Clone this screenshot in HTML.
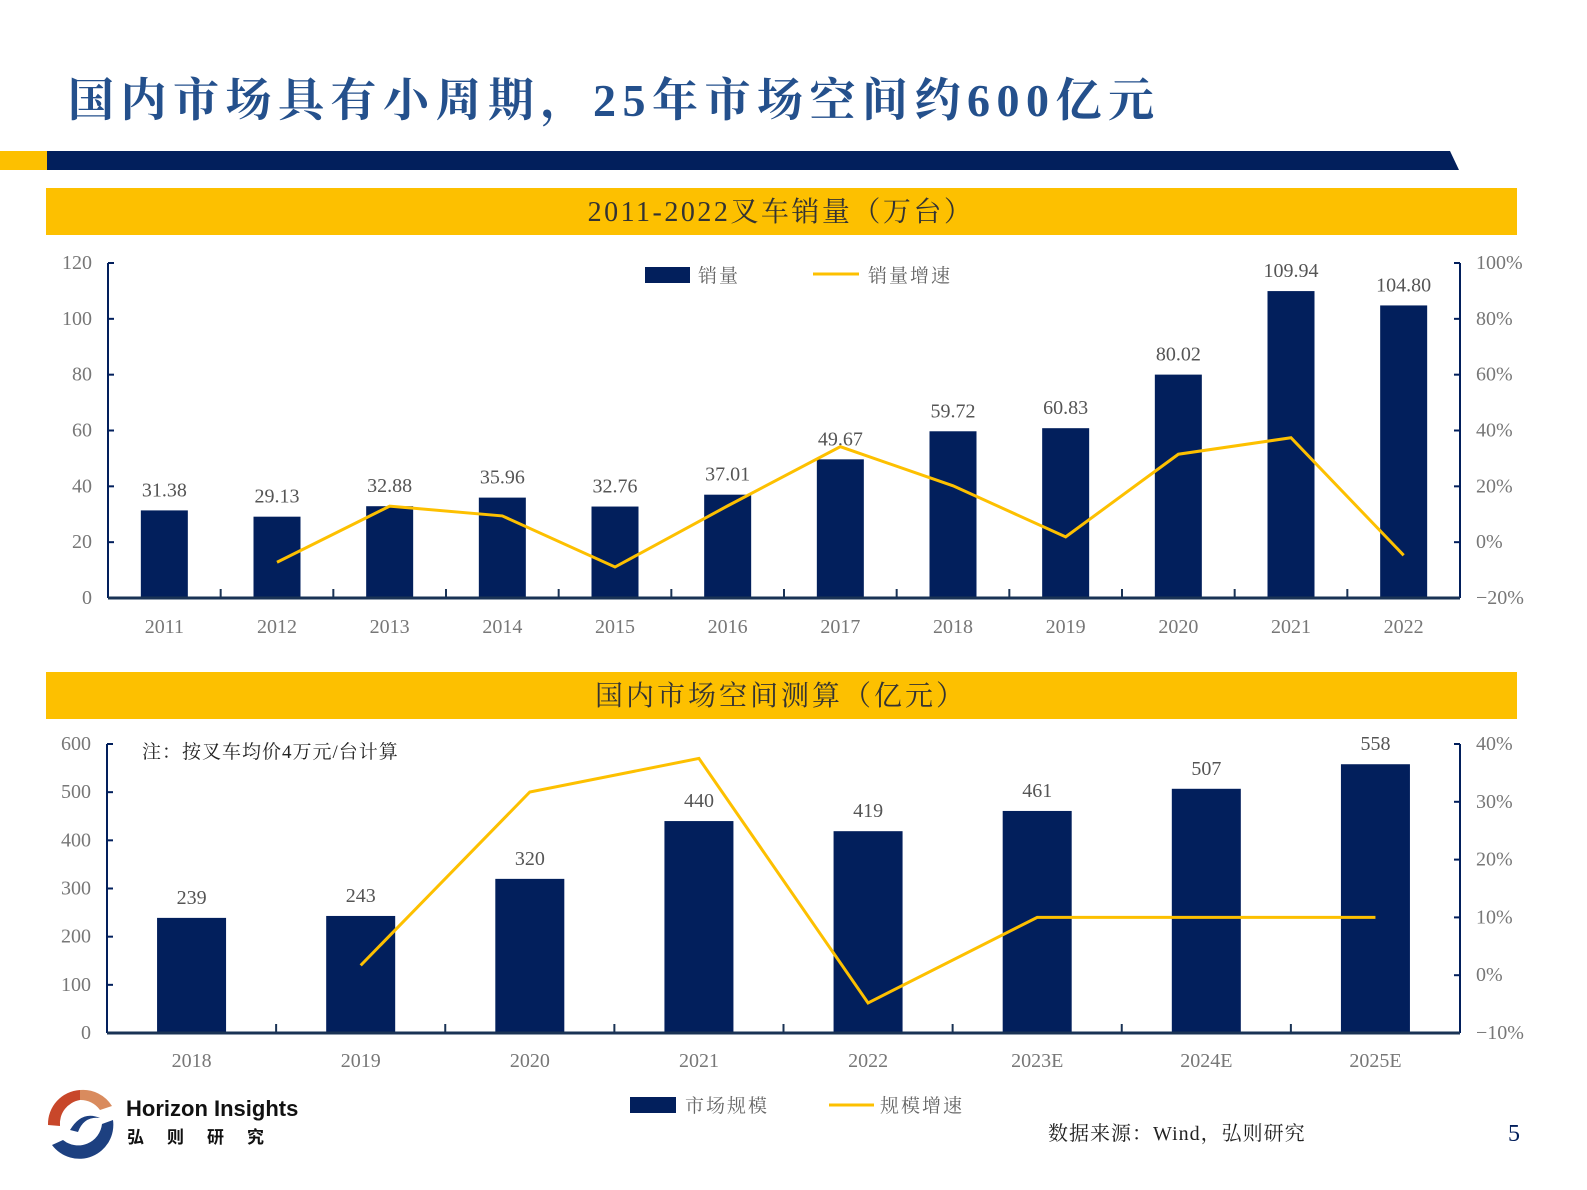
<!DOCTYPE html>
<html><head><meta charset="utf-8">
<style>
body{margin:0;background:#fff;}
svg{display:block;}
.ser{font-family:"Liberation Serif","Noto Serif CJK SC",serif;}
</style></head>
<body>
<svg width="1587" height="1190" viewBox="0 0 1587 1190" xmlns="http://www.w3.org/2000/svg" id="root">
<text x="68" y="116" font-family="'Liberation Serif','Noto Serif CJK SC',serif" font-weight="bold" font-size="46" fill="#24508c" letter-spacing="6.5">国内市场具有小周期，25年市场空间约600亿元</text>
<rect x="0" y="151" width="47" height="19" fill="#fdc000"/>
<polygon points="47,151 1450,151 1459,170 47,170" fill="#021f5c"/>
<rect x="46" y="188" width="1471" height="47" fill="#fdc000"/>
<text x="781" y="221" text-anchor="middle" class="ser" font-size="28" fill="#333" letter-spacing="2.5">2011-2022叉车销量（万台）</text>
<rect x="46" y="672" width="1471" height="47" fill="#fdc000"/>
<text x="781" y="705" text-anchor="middle" class="ser" font-size="28" fill="#333" letter-spacing="3">国内市场空间测算（亿元）</text>
<g id="c1"></g>
<g id="c2"></g>
<text x="142" y="758" class="ser" font-size="19" fill="#222" letter-spacing="1">注：按叉车均价4万元/台计算</text>
<g>
<rect x="645" y="267" width="45" height="16" fill="#021f5c"/>
<text x="698" y="282" class="ser" font-size="19" fill="#666" letter-spacing="2">销量</text>
</g>
<g>
<line x1="813" y1="274" x2="859" y2="274" stroke="#fdc000" stroke-width="3"/>
<text x="868" y="282" class="ser" font-size="19" fill="#666" letter-spacing="2">销量增速</text>
</g>
<g>
<rect x="630" y="1097" width="46" height="16" fill="#021f5c"/>
<text x="685" y="1112" class="ser" font-size="19" fill="#666" letter-spacing="2">市场规模</text>
</g>
<g>
<line x1="829" y1="1105" x2="874" y2="1105" stroke="#fdc000" stroke-width="3"/>
<text x="880" y="1112" class="ser" font-size="19" fill="#666" letter-spacing="2">规模增速</text>
</g>
<text x="1048" y="1140" class="ser" font-size="20" fill="#222" letter-spacing="1">数据来源：Wind，弘则研究</text>
<text x="1508" y="1141" class="ser" font-size="24" fill="#021f5c">5</text>
<g>
<path d="M80,1090 A34,34 0 0 0 48,1125 L60,1126 A24,24 0 0 1 80,1100 Z" fill="#c8472a"/>
<path d="M80,1090 A34,34 0 0 1 112,1106 L100,1110 A24,24 0 0 0 80,1100 Z" fill="#d98b5e"/>
<path d="M113,1120 A34,34 0 0 1 52,1145 L63,1140 A24,24 0 0 0 102,1124 Z" fill="#1d4080"/>
<path d="M70,1130 Q82,1110 100,1118 Q84,1116 78,1132 Z" fill="#1d4080"/>
</g>
<text x="126" y="1116" font-family="'Liberation Sans',sans-serif" font-weight="bold" font-size="22" fill="#111">Horizon Insights</text>
<text x="127" y="1143" font-family="'Liberation Sans','Noto Sans CJK SC',sans-serif" font-weight="bold" font-size="17" fill="#111" letter-spacing="23">弘则研究</text>
</svg>
<script>
const salesYears=['2011','2012','2013','2014','2015','2016','2017','2018','2019','2020','2021','2022'];
const salesValues=[31.38,29.13,32.88,35.96,32.76,37.01,49.67,59.72,60.83,80.02,109.94,104.80];
const salesGrowth=[null,-7.2,12.9,9.4,-8.9,13.0,34.2,20.2,1.9,31.5,37.4,-4.7];
const salesLeftTicks=[0,20,40,60,80,100,120];
const salesRightTicks=[-20,0,20,40,60,80,100];
const mktYears=['2018','2019','2020','2021','2022','2023E','2024E','2025E'];
const mktValues=[239,243,320,440,419,461,507,558];
const mktGrowth=[null,1.7,31.7,37.5,-4.8,10,10,10];
const mktLeftTicks=[0,100,200,300,400,500,600];
const mktRightTicks=[-10,0,10,20,30,40];
const NS='http://www.w3.org/2000/svg';
function mk(tag,attrs,parent){const e=document.createElementNS(NS,tag);for(const k in attrs)e.setAttribute(k,attrs[k]);parent.appendChild(e);return e;}
function draw(g,cfg){
  const {cats,vals,growth,lt,rt,x0,x1,yTop,yBot,barW,labels,fmt}=cfg;
  const lmin=lt[0],lmax=lt[lt.length-1],rmin=rt[0],rmax=rt[rt.length-1];
  const yL=v=>yBot-(v-lmin)/(lmax-lmin)*(yBot-yTop);
  const yR=v=>yBot-(v-rmin)/(rmax-rmin)*(yBot-yTop);
  const step=(x1-x0)/cats.length;
  const xc=i=>x0+(i+0.5)*step;
  lt.forEach(t=>{
    const tk=mk('line',{x1:x0,x2:x0+6,y1:yL(t),y2:yL(t),stroke:'#021f5c','stroke-width':2},g);
    
    
    const tx=mk('text',{x:x0-16,y:yL(t)+6,'text-anchor':'end','font-family':'Liberation Serif,serif','font-size':20,fill:'#777'},g);
    tx.textContent=t;
    
    
  });
  rt.forEach(t=>{
    const tk=mk('line',{x1:x1-6,x2:x1,y1:yR(t),y2:yR(t),stroke:'#021f5c','stroke-width':2},g);
    
    
    const tx=mk('text',{x:x1+16,y:yR(t)+6,'font-family':'Liberation Serif,serif','font-size':20,fill:'#777'},g);
    tx.textContent=(t<0?'\u2212'+(-t):t)+'%';
    
    
  });
  cats.forEach((c,i)=>{
    const b=mk('rect',{x:xc(i)-barW/2,y:yL(vals[i]),width:barW,height:yBot-yL(vals[i]),fill:'#021f5c'},g);
    
    
    const vl=mk('text',{x:xc(i),y:yL(vals[i])-14,'text-anchor':'middle','font-family':'Liberation Serif,serif','font-size':20,fill:'#555'},g);
    vl.textContent=fmt(vals[i]);
    
    
    const xl=mk('text',{x:xc(i),y:labels,'text-anchor':'middle','font-family':'Liberation Serif,serif','font-size':20,fill:'#777'},g);
    xl.textContent=c;
    
    
    if(i>0){
      const tk=mk('line',{x1:x0+i*step,x2:x0+i*step,y1:yBot-9,y2:yBot,stroke:'#1a3355','stroke-width':2},g);
      
      
    }
  });
  const la=mk('line',{x1:x0,x2:x0,y1:yTop,y2:yBot,stroke:'#021f5c','stroke-width':2},g);
  
  
  const ra=mk('line',{x1:x1,x2:x1,y1:yTop,y2:yBot,stroke:'#021f5c','stroke-width':2},g);
  
  
  const xa=mk('line',{x1:x0,x2:x1,y1:yBot,y2:yBot,stroke:'#1a3355','stroke-width':3},g);
  
  
  const pts=[];growth.forEach((v,i)=>{if(v!==null)pts.push(xc(i)+','+yR(v));});
  const pl=mk('polyline',{points:pts.join(' '),fill:'none',stroke:'#fdc000','stroke-width':3,'stroke-linejoin':'miter'},g);
  
  
}
draw(document.getElementById('c1'),{cats:salesYears,vals:salesValues,growth:salesGrowth,lt:salesLeftTicks,rt:salesRightTicks,x0:108,x1:1460,yTop:263,yBot:598,barW:47,labels:633,fmt:v=>v.toFixed(2)});
draw(document.getElementById('c2'),{cats:mktYears,vals:mktValues,growth:mktGrowth,lt:mktLeftTicks,rt:mktRightTicks,x0:107,x1:1460,yTop:744,yBot:1033,barW:69,labels:1067,fmt:v=>String(v)});
</script>
</body></html>
